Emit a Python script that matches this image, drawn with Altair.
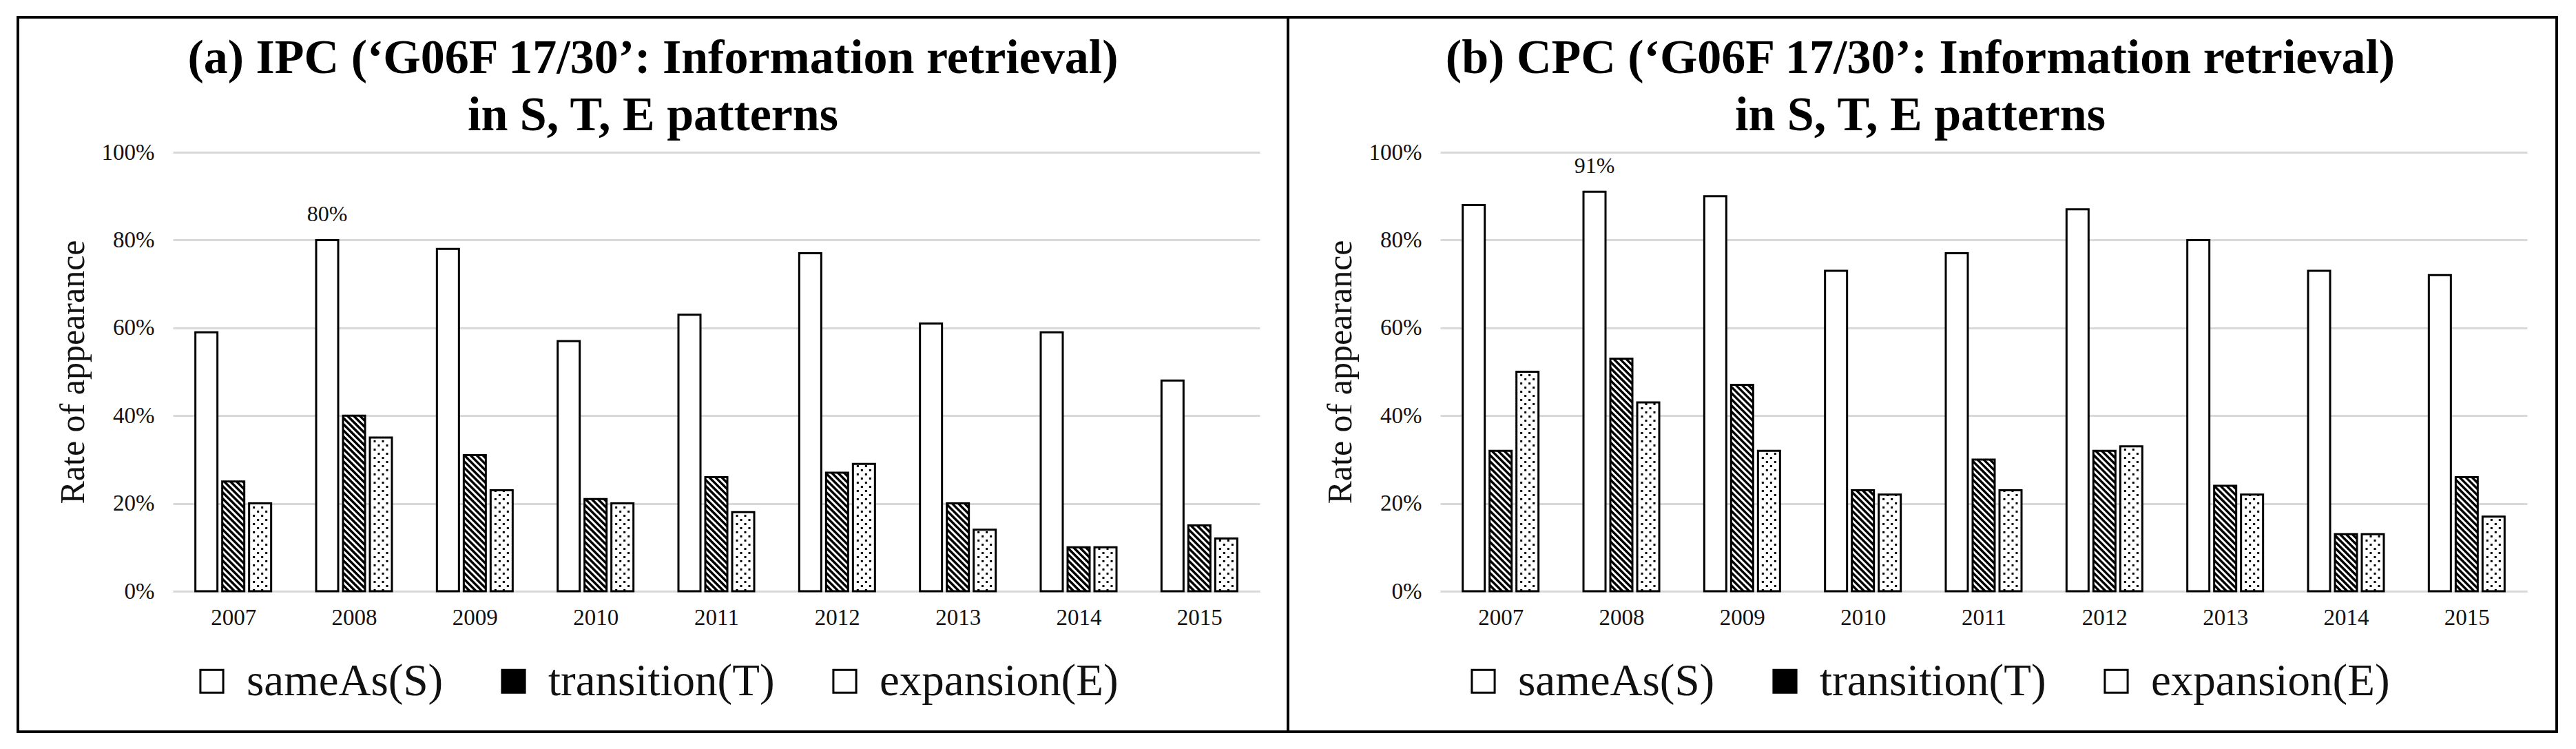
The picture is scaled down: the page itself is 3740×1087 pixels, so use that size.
import altair as alt
import pandas as pd
import numpy as np

# ---------------- data ----------------
YEARS = ["2007", "2008", "2009", "2010", "2011", "2012", "2013", "2014", "2015"]
SERIES = ["sameAs(S)", "transition(T)", "expansion(E)"]

IPC_S = [59, 80, 78, 57, 63, 77, 61, 59, 48]
IPC_T = [25, 40, 31, 21, 26, 27, 20, 10, 15]
IPC_E = [20, 35, 23, 20, 18, 29, 14, 10, 12]

CPC_S = [88, 91, 90, 73, 77, 87, 80, 73, 72]
CPC_T = [32, 53, 47, 23, 30, 32, 24, 13, 26]
CPC_E = [50, 43, 32, 22, 23, 33, 22, 13, 17]

TITLE_A = ["(a) IPC (\u2018G06F 17/30\u2019: Information retrieval)", "in S, T, E patterns"]
TITLE_B = ["(b) CPC (\u2018G06F 17/30\u2019: Information retrieval)", "in S, T, E patterns"]
Y_TITLE = "Rate of appearance"
Y_TICKS = [0, 0.2, 0.4, 0.6, 0.8, 1.0]

# ---------------- layout / style ----------------
FONT = "Liberation Serif"
PLOT_W = 1578
PLOT_H = 637
BAR_W = 32          # px
BAR_STEP = 39       # px between bar centres in a group
HATCH_GAP = 9       # px
DOT_COLS = [7, 13, 19, 25]
PXU = PLOT_W / len(YEARS)
GRID = "#d9d9d9"
TXT = "#111111"


def make_frames(s, t, e):
    vals = [s, t, e]
    rows = []
    for k, ser in enumerate(SERIES):
        for i, yr in enumerate(YEARS):
            v = vals[k][i] / 100.0
            c = i + 0.5 + (k - 1) * BAR_STEP / PXU
            rows.append(dict(year=yr, series=ser, value=v,
                             x0=c - BAR_W / 2 / PXU, x1=c + BAR_W / 2 / PXU,
                             xc=c, zero=0.0))
    bars = pd.DataFrame(rows)

    hatch = []
    for r in bars[bars.series == SERIES[1]].itertuples():
        H = r.value * PLOT_H
        for kk in np.arange(HATCH_GAP / 2, BAR_W + H, HATCH_GAP):
            u0 = max(0.0, kk - H)
            u1 = min(BAR_W, kk)
            if u1 - u0 > 0.3:
                hatch.append(dict(xa=r.x0 + u0 / PXU, ya=(kk - u0) / PLOT_H,
                                  xb=r.x0 + u1 / PXU, yb=(kk - u1) / PLOT_H))
    hatch = pd.DataFrame(hatch)

    dots = []
    for r in bars[bars.series == SERIES[2]].itertuples():
        for j, u in enumerate(DOT_COLS):
            dots.append(dict(xd=r.x0 + u / PXU, top=r.value, zero=0.0, phase=j % 2))
    dots = pd.DataFrame(dots)

    sb = bars[bars.series == SERIES[0]]
    top = sb.loc[[sb.value.idxmax()]].copy()
    top["label"] = (top.value * 100).round().astype(int).astype(str) + "%"
    return bars, hatch, dots, top


x_scale = alt.Scale(domain=[0, len(YEARS)], nice=False, zero=False)
y_scale = alt.Scale(domain=[0, 1], nice=False)

label_expr = "[" + ",".join("'%s'" % y for y in YEARS) + "][floor(datum.value)]"
x_axis = alt.Axis(values=[i + 0.5 for i in range(len(YEARS))], labelExpr=label_expr,
                  grid=False, ticks=False, domain=True, domainColor=GRID, domainWidth=3,
                  labelFont=FONT, labelFontSize=33, labelColor=TXT, labelPadding=22,
                  title=None)
y_axis = alt.Axis(values=Y_TICKS, format=".0%", grid=True, gridColor=GRID, gridWidth=3,
                  ticks=False, domain=False, labelFont=FONT, labelFontSize=33,
                  labelColor=TXT, labelPadding=27, title=Y_TITLE, titleFont=FONT,
                  titleFontSize=50, titleFontWeight="normal", titleColor=TXT,
                  titleAngle=-90, titleX=-120, titleY=PLOT_H / 2,
                  titleBaseline="bottom", titleAlign="center")


def X(f):
    return alt.X(f, type="quantitative", scale=x_scale, axis=x_axis)


def Y(f):
    return alt.Y(f, type="quantitative", scale=y_scale, axis=y_axis)


def panel(s, t, e, title, frame_l, frame_r, legend_x):
    bars, hatch, dots, top = make_frames(s, t, e)
    legend = alt.Legend(orient="none", legendX=legend_x, legendY=735, direction="horizontal",
                        title=None, labelFont=FONT, labelFontSize=65, labelColor=TXT,
                        symbolType="square", symbolSize=1100, symbolStrokeColor="black",
                        symbolStrokeWidth=3, symbolOpacity=1, labelOffset=18,
                        columnPadding=69, labelLimit=0, padding=0)
    fill = alt.Chart(bars).mark_rect(strokeWidth=0).encode(
        x=X("x0"), x2="x1", y=Y("value"), y2="zero",
        fill=alt.Fill("series:N", scale=alt.Scale(domain=SERIES,
                                                  range=["#ffffff", "#000000", "#ffffff"]),
                      legend=legend, sort=SERIES))
    hat = alt.Chart(hatch).mark_rule(color="white", strokeWidth=2.9, strokeCap="butt").encode(
        x=X("xa"), x2="xb", y=Y("ya"), y2="yb")
    d0 = alt.Chart(dots[dots.phase == 0]).mark_rule(
        color="black", strokeWidth=3, strokeDash=[3, 9], strokeDashOffset=0, strokeCap="butt"
    ).encode(x=X("xd"), y=Y("zero"), y2="top")
    d1 = alt.Chart(dots[dots.phase == 1]).mark_rule(
        color="black", strokeWidth=3, strokeDash=[3, 9], strokeDashOffset=6, strokeCap="butt"
    ).encode(x=X("xd"), y=Y("zero"), y2="top")
    outline = alt.Chart(bars).mark_rect(fillOpacity=0, stroke="black", strokeWidth=3).encode(
        x=X("x0"), x2="x1", y=Y("value"), y2="zero")
    lab = alt.Chart(top).mark_text(font=FONT, fontSize=32, baseline="bottom", dy=-20,
                                   color=TXT).encode(x=X("xc"), y=Y("value"), text="label:N")
    frame = alt.Chart(alt.Data(values=[{}])).mark_rect(
        fillOpacity=0, stroke="black", strokeWidth=4).encode(
        x=alt.value(frame_l), x2=alt.value(frame_r), y=alt.value(-196), y2=alt.value(841))
    return alt.layer(fill, hat, d0, d1, outline, lab, frame).properties(
        width=PLOT_W, height=PLOT_H,
        title=alt.TitleParams(text=title, font=FONT, fontSize=70, fontWeight="bold",
                              lineHeight=83, anchor="middle", dx=-92, color="black",
                              offset=-181))


left = panel(IPC_S, IPC_T, IPC_E, TITLE_A, -225, 1619, 24)
right = panel(CPC_S, CPC_T, CPC_E, TITLE_B, -221, 1621, 30)

chart = alt.hconcat(left, right, spacing=-4).resolve_scale(fill="independent").resolve_legend(
    fill="independent").properties(
    padding={"left": 16, "top": 15, "right": 5, "bottom": 5}
).configure_view(strokeWidth=0)

chart.save("out.html", embed_options={"renderer": "svg", "actions": False})
